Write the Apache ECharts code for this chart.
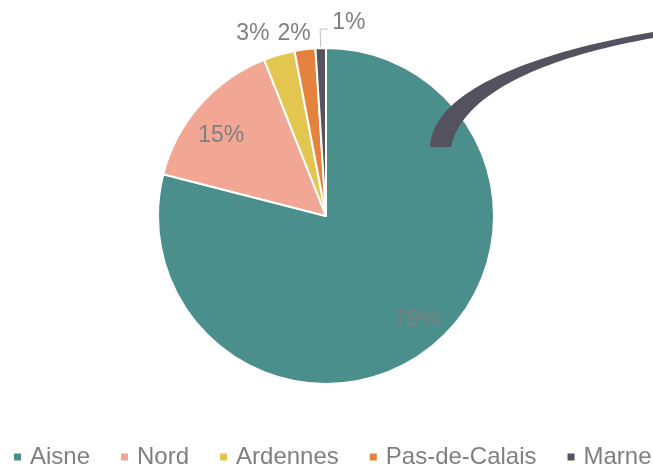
<!DOCTYPE html>
<html>
<head>
<meta charset="utf-8">
<script src="https://cdn.jsdelivr.net/npm/echarts@6/dist/echarts.min.js"></script>
<style>
  html, body { margin: 0; padding: 0; background: #fff; }
  #main { width: 653px; height: 467px; }
</style>
</head>
<body>
<div id="main"></div>
<script>
var categories = ['Aisne', 'Nord', 'Ardennes', 'Pas-de-Calais', 'Marne'];
var shares = [79, 15, 3, 2, 1];
var colors = ['#4b8f8c', '#f1a794', '#e3c64f', '#e5823e', '#56535f'];

var chart = echarts.init(document.getElementById('main'));

var labelFont = { fontFamily: 'Liberation Sans, Arial, sans-serif', fontSize: 23, color: '#7f7f7f' };

// curved arrow-ish shape drawn over the chart (decoration, not data)
function bez(p0, p1, p2, p3, n) {
  var pts = [];
  for (var i = 0; i <= n; i++) {
    var t = i / n, u = 1 - t;
    pts.push([
      u * u * u * p0[0] + 3 * u * u * t * p1[0] + 3 * u * t * t * p2[0] + t * t * t * p3[0],
      u * u * u * p0[1] + 3 * u * u * t * p1[1] + 3 * u * t * t * p2[1] + t * t * t * p3[1]
    ]);
  }
  return pts;
}
var swoosh = bez([430, 147], [432, 95], [520, 55], [653, 32], 40)
  .concat(bez([653, 38], [540, 58], [462, 95], [451, 147], 40));

// visible pie
var pieData = categories.map(function (name, i) {
  return { name: name, value: shares[i], itemStyle: { color: colors[i] } };
});

// transparent ring on top, only carries the labels (so inner labels sit at ~0.8 of the radius)
var labelData = categories.map(function (name, i) {
  var inner = shares[i] > 10;
  return {
    name: name,
    value: shares[i],
    label: { position: inner ? 'inside' : 'outside' },
    labelLine: {
      show: name === 'Marne',
      length: name === 'Ardennes' ? 24 : (name === 'Marne' ? 19 : 18),
      length2: name === 'Marne' ? 8 : 0
    }
  };
});

// small nudges so labels sit where the original put them
var labelNudge = [[7, -5], [-2, 10], [2, 2], [13, 2], [0, 0]];

var option = {
  color: colors,
  animation: false,
  legend: {
    data: categories,
    top: 445,
    left: 12,
    width: 653,
    padding: 0,
    icon: 'rect',
    itemWidth: 9,
    itemHeight: 9,
    itemGap: 29,
    textStyle: { fontFamily: 'Liberation Sans, Arial, sans-serif', fontSize: 24, color: '#7f7f7f', padding: [0, 0, 0, 3] }
  },
  graphic: [{
    type: 'polygon',
    z: 100,
    silent: true,
    shape: { points: swoosh },
    style: { fill: '#55525f' }
  }],
  series: [
    {
      type: 'pie',
      center: [326, 216],
      radius: 168,
      startAngle: 90,
      clockwise: true,
      label: { show: false },
      labelLine: { show: false },
      itemStyle: { borderColor: '#fff', borderWidth: 2 },
      data: pieData
    },
    {
      type: 'pie',
      center: [326, 216],
      radius: [100, 168],
      startAngle: 90,
      clockwise: true,
      silent: true,
      legendHoverLink: false,
      avoidLabelOverlap: false,
      itemStyle: { color: 'rgba(0,0,0,0)' },
      emphasis: { disabled: true },
      label: Object.assign({ show: true, formatter: '{c}%' }, labelFont),
      labelLine: { lineStyle: { color: '#bfbfbf', width: 1 } },
      labelLayout: function (p) {
        if (p.dataIndex === 4 && p.labelLinePoints) {
          // leader line goes up, then to the right
          var a = p.labelLinePoints[0], b = p.labelLinePoints[1];
          var c = [b[0] + 8, b[1]];
          return { x: c[0] + 4, y: b[1] - 6, align: 'left', verticalAlign: 'middle', labelLinePoints: [a, b, c] };
        }
        var n = labelNudge[p.dataIndex];
        return { dx: n[0], dy: n[1] };
      },
      data: labelData
    }
  ]
};

chart.setOption(option);
</script>
</body>
</html>
